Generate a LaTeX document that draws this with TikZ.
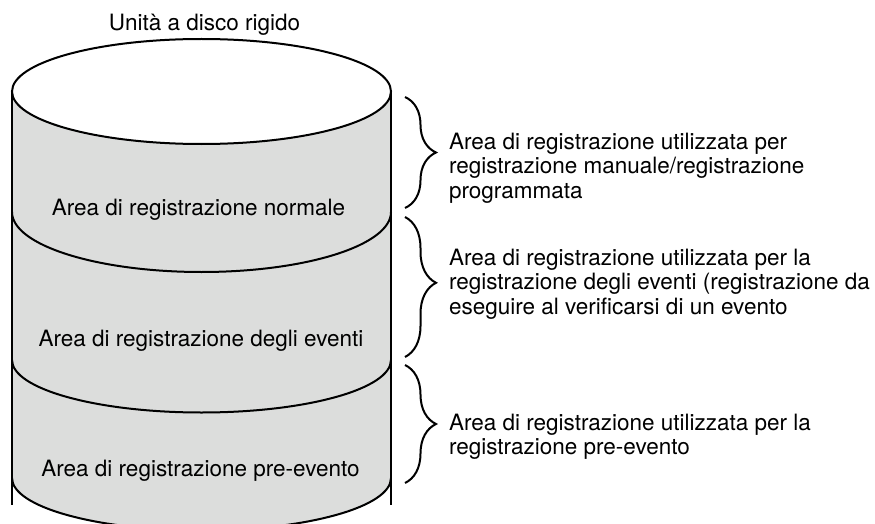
\documentclass[tikz,border=0pt]{standalone}
\usepackage{fontspec}
\setmainfont{TeX Gyre Heros}
\usetikzlibrary{positioning,decorations.pathreplacing}
\definecolor{diskgray}{HTML}{DCDDDC}

\begin{document}
\begin{tikzpicture}[x=1pt,y=-1pt, line width=2pt,
    every node/.style={font=\fontsize{22.5}{24.5}\selectfont, inner sep=0pt},
    layer/.style={anchor=base},
    note/.style={anchor=north west, align=left},
    curly/.style={decorate, decoration={brace, amplitude=31pt}}]
  \useasboundingbox (0,0) rectangle (875,524);
  % disk body
  \fill[diskgray] (12,91.5) -- (12,478) arc[start angle=180, end angle=360, x radius=189.5pt, y radius=52.5pt] -- (391,91.5) -- cycle;
  \draw (12,91.5) -- (12,505) (391,91.5) -- (391,505);
  \draw[fill=white] (201.5,91.5) ellipse[x radius=189.5pt, y radius=52.5pt];
  \draw (12,212) arc[start angle=180, end angle=360, x radius=189.5pt, y radius=60pt];
  \draw (12,360) arc[start angle=180, end angle=360, x radius=189.5pt, y radius=52.5pt];
  \draw (12,478) arc[start angle=180, end angle=360, x radius=189.5pt, y radius=52.5pt];
  \node[layer] (hdd) at (204.5,30.7) {Unità a disco rigido};
  \node[layer] (normal) at (198.5,215) {Area di registrazione normale};
  \node[layer] (event) at (201,346) {Area di registrazione degli eventi};
  \node[layer] (pre) at (200.5,476) {Area di registrazione pre-evento};
  % braces
  \coordinate (b1t) at (405,97); \coordinate (b1b) at (405,208);
  \coordinate (b2t) at (405,217); \coordinate (b2b) at (405,357);
  \coordinate (b3t) at (405,365); \coordinate (b3b) at (405,483);
  \draw[curly] (b1t) -- (b1b);
  \draw[curly, decoration={aspect=0.47}] (b2t) -- (b2b);
  \draw[curly] (b3t) -- (b3b);
  \node[note] (n1) at (448,132) {Area di registrazione utilizzata per\\registrazione manuale/registrazione\\programmata};
  \node[note] (n2) at (448,248) {Area di registrazione utilizzata per la\\registrazione degli eventi (registrazione da\\eseguire al verificarsi di un evento};
  \node[note] (n3) at (448,413) {Area di registrazione utilizzata per la\\registrazione pre-evento};
\end{tikzpicture}
\end{document}
